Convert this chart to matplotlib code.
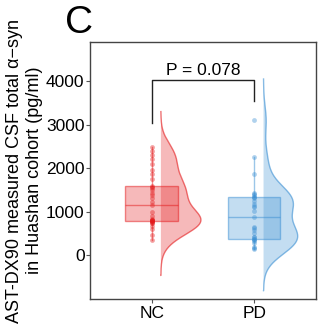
import numpy as np
import matplotlib
matplotlib.use("Agg")
import matplotlib.pyplot as plt

# values (pg/ml)
groups = ["NC", "PD"]
nc_values = [345, 460, 590, 667, 728, 750, 766, 775, 782, 790, 800, 805, 815, 830,
             897, 1000, 1149, 1226, 1303, 1379, 1433, 1494, 1540, 1571, 1593, 1740,
             1877, 1969, 2107, 2207, 2299, 2390, 2490]
pd_values = [130, 153, 191, 268, 330, 350, 360, 368, 407, 421, 498, 575, 613, 651,
             880, 1018, 1100, 1126, 1172, 1249, 1303, 1326, 1341, 1379, 1400, 1418,
             1862, 2260, 3103]
colors = ["#E41A1C", "#3A8FD3"]
p_label = "P = 0.078"

plt.rcParams["font.family"] = ["Liberation Sans", "DejaVu Sans"]


def nrd0(x):
    x = np.asarray(x, float)
    sd = x.std(ddof=1)
    q75, q25 = np.percentile(x, [75, 25])
    return 0.9 * min(sd, (q75 - q25) / 1.34) * len(x) ** -0.2


def kde(x, bw, grid):
    x = np.asarray(x, float)
    z = (grid[:, None] - x[None, :]) / bw
    return np.exp(-0.5 * z ** 2).sum(axis=1) / (len(x) * bw * np.sqrt(2 * np.pi))


fig = plt.figure(figsize=(3.24, 3.32), dpi=100)
ax = fig.add_axes([0.278, 0.0994, 0.697, 0.7736])

data = [nc_values, pd_values]
pos = [1, 2]

# half violins (area scaled, like ggplot)
dens = []
for vals in data:
    bw = nrd0(vals)
    grid = np.linspace(min(vals) - 3 * bw, max(vals) + 3 * bw, 300)
    dens.append((grid, kde(vals, bw, grid)))
dmax = max(d.max() for _, d in dens)
for (grid, d), p, c in zip(dens, pos, colors):
    w = d / dmax * 0.39
    x0 = p + 0.09
    ax.fill_betweenx(grid, x0, x0 + w, facecolor=c, alpha=0.3, lw=0)
    ax.plot(np.r_[x0, x0 + w, x0], np.r_[grid[0], grid, grid[-1]], color=c, lw=1, alpha=0.6)

# boxes
for vals, p, c in zip(data, pos, colors):
    bp = ax.boxplot([vals], positions=[p], widths=0.51, patch_artist=True,
                    showfliers=False, showcaps=False)
    for b in bp["boxes"]:
        b.set_facecolor(matplotlib.colors.to_rgba(c, 0.3))
        b.set_edgecolor(matplotlib.colors.to_rgba(c, 0.5))
        b.set_linewidth(1)
    for k in ("whiskers", "medians"):
        for ln in bp[k]:
            ln.set_color(c)
            ln.set_alpha(0.5)
            ln.set_linewidth(1)

# points
for vals, p, c in zip(data, pos, colors):
    ax.scatter(np.full(len(vals), p), vals, s=12, color=c, alpha=0.4, lw=0, zorder=3)

# significance bracket
ax.plot([1, 1, 2, 2], [3030, 4020, 4020, 3540], color="#222222", lw=1)
ax.text(1.5, 4080, p_label, ha="center", va="bottom", fontsize=12.5)

ax.set_xlim(0.4, 2.6)
ax.set_ylim(-1010, 4900)
ax.set_xticks(pos)
ax.set_xticklabels(groups, fontsize=12.5)
ax.set_yticks([0, 1000, 2000, 3000, 4000])
ax.tick_params(axis="y", labelsize=12.5, length=3, color="#555555", pad=1)
ax.tick_params(axis="x", length=3, color="#555555", pad=2)
for s in ax.spines.values():
    s.set_color("#444444")
    s.set_linewidth(1)
ax.set_ylabel("AST-DX90 measured CSF total α\u2212syn\nin Huashan cohort (pg/ml)",
              fontsize=13, labelpad=2, linespacing=1.25)

fig.text(0.2, 0.985, "C", fontsize=28, va="top", ha="left")

fig.savefig("out.png", dpi=100)
